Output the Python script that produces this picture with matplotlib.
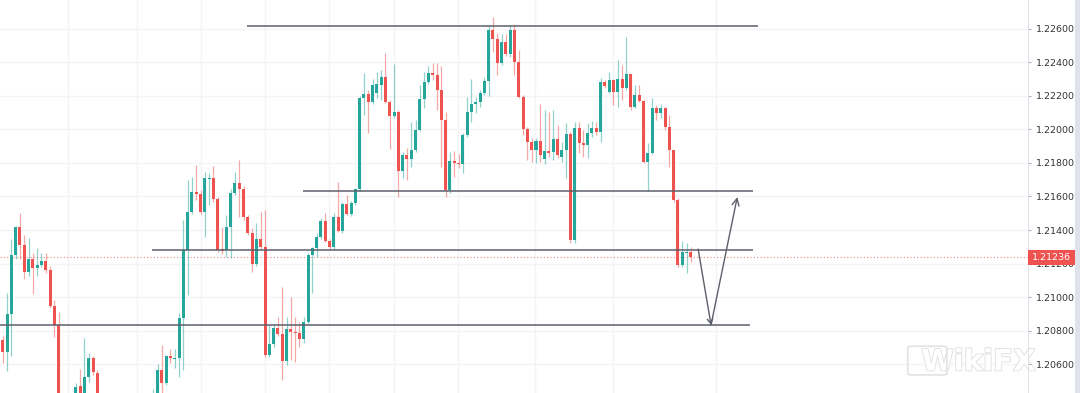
import numpy as np
import matplotlib.pyplot as plt
import matplotlib.patheffects as pe
from matplotlib.patches import Rectangle, FancyBboxPatch

# OHLC, one candle per index
opens = [1.20743, 1.20672, 1.20898, 1.21251, 1.21418, 1.21310, 1.21149, 1.21227, 1.21173, 1.21191,
         1.21215, 1.21161, 1.20946, 1.20833, 1.20373, 1.20313, 1.20361, 1.20385, 1.20469, 1.20409,
         1.20522, 1.20636, 1.20546, 1.20373, 1.20313, 1.20361, 1.20296, 1.20266, 1.20325, 1.20355,
         1.20301, 1.20343, 1.20313, 1.20367, 1.20385, 1.20349, 1.20397, 1.20564, 1.20487, 1.20648,
         1.20630, 1.20636, 1.20875, 1.21281, 1.21507, 1.21627, 1.21615, 1.21507, 1.21704, 1.21710,
         1.21585, 1.21286, 1.21281, 1.21418, 1.21621, 1.21681, 1.21645, 1.21478, 1.21382, 1.21197,
         1.21346, 1.21298, 1.20654, 1.20719, 1.20815, 1.20779, 1.20618, 1.20809, 1.20791, 1.20785,
         1.20749, 1.20851, 1.21251, 1.21292, 1.21358, 1.21454, 1.21334, 1.21298, 1.21478, 1.21394,
         1.21555, 1.21495, 1.21561, 1.21645, 1.22188, 1.22212, 1.22164, 1.22218, 1.22266, 1.22313,
         1.22164, 1.22080, 1.22104, 1.21752, 1.21848, 1.21824, 1.21877, 1.21997, 1.22182, 1.22283,
         1.22337, 1.22325, 1.22236, 1.22057, 1.21639, 1.21812, 1.21800, 1.21794, 1.21967, 1.22104,
         1.22152, 1.22164, 1.22218, 1.22289, 1.22594, 1.22540, 1.22397, 1.22522, 1.22451, 1.22594,
         1.22403, 1.22194, 1.22003, 1.21925, 1.21877, 1.21931, 1.21824, 1.21871, 1.21866, 1.21943,
         1.21836, 1.21877, 1.21973, 1.21340, 1.22009, 1.21919, 1.21907, 1.21979, 1.22009, 1.21985,
         1.22283, 1.22224, 1.22295, 1.22224, 1.22301, 1.22248, 1.22331, 1.22134, 1.22206, 1.22170,
         1.21806, 1.21860, 1.22128, 1.22098, 1.22128, 1.22015, 1.21877, 1.21579, 1.21191, 1.21263,
         1.21269]
highs = [1.20767, 1.21024, 1.21346, 1.21424, 1.21501, 1.21370, 1.21352, 1.21263, 1.21292, 1.21263,
         1.21263, 1.21185, 1.20982, 1.20910, 1.20397, 1.20385, 1.20391, 1.20487, 1.20570, 1.20755,
         1.20666, 1.20648, 1.20564, 1.20397, 1.20391, 1.20385, 1.20325, 1.20355, 1.20385, 1.20379,
         1.20367, 1.20385, 1.20391, 1.20403, 1.20403, 1.20451, 1.20600, 1.20713, 1.20654, 1.20690,
         1.20690, 1.20904, 1.21460, 1.21698, 1.21716, 1.21788, 1.21639, 1.21746, 1.21740, 1.21782,
         1.21597, 1.21418, 1.21489, 1.21645, 1.21746, 1.21818, 1.21663, 1.21489, 1.21412, 1.21442,
         1.21507, 1.21519, 1.20833, 1.20839, 1.20881, 1.21060, 1.20881, 1.21000, 1.20881, 1.20851,
         1.20881, 1.21263, 1.21298, 1.21382, 1.21472, 1.21501, 1.21346, 1.21501, 1.21687, 1.21567,
         1.21609, 1.21573, 1.21651, 1.22200, 1.22337, 1.22236, 1.22301, 1.22343, 1.22355, 1.22457,
         1.22176, 1.22391, 1.22116, 1.21866, 1.21889, 1.22045, 1.22057, 1.22266, 1.22343, 1.22379,
         1.22397, 1.22397, 1.22379, 1.22104, 1.21866, 1.21871, 1.21854, 1.21979, 1.22194, 1.22301,
         1.22194, 1.22236, 1.22313, 1.22624, 1.22672, 1.22576, 1.22570, 1.22570, 1.22624, 1.22630,
         1.22475, 1.22206, 1.22015, 1.21949, 1.21949, 1.22152, 1.22116, 1.22104, 1.22116, 1.22027,
         1.21925, 1.22039, 1.21985, 1.22045, 1.22045, 1.21997, 1.22039, 1.22051, 1.22045, 1.22307,
         1.22295, 1.22343, 1.22301, 1.22415, 1.22385, 1.22552, 1.22331, 1.22266, 1.22266, 1.22176,
         1.21919, 1.22188, 1.22146, 1.22152, 1.22134, 1.22086, 1.21877, 1.21591, 1.21334, 1.21322,
         1.21298]
lows = [1.20606, 1.20558, 1.20648, 1.21227, 1.21227, 1.21107, 1.21125, 1.21018, 1.21125, 1.21179,
        1.21143, 1.20934, 1.20761, 1.20349, 1.20296, 1.20290, 1.20313, 1.20367, 1.20391, 1.20391,
        1.20493, 1.20534, 1.20349, 1.20301, 1.20296, 1.20272, 1.20242, 1.20248, 1.20307, 1.20278,
        1.20284, 1.20290, 1.20301, 1.20337, 1.20325, 1.20331, 1.20373, 1.20427, 1.20475, 1.20606,
        1.20576, 1.20522, 1.20564, 1.21012, 1.21495, 1.21579, 1.21495, 1.21358, 1.21549, 1.21567,
        1.21269, 1.21257, 1.21239, 1.21233, 1.21609, 1.21478, 1.21460, 1.21370, 1.21149, 1.21185,
        1.21286, 1.20642, 1.20642, 1.20701, 1.20767, 1.20504, 1.20594, 1.20624, 1.20612, 1.20701,
        1.20725, 1.20839, 1.21024, 1.21239, 1.21346, 1.21328, 1.21281, 1.21281, 1.21388, 1.21382,
        1.21489, 1.21484, 1.21549, 1.21633, 1.22086, 1.21979, 1.22152, 1.22188, 1.22176, 1.22158,
        1.21883, 1.22069, 1.21597, 1.21710, 1.21698, 1.21776, 1.21866, 1.21991, 1.22128, 1.22272,
        1.22295, 1.22116, 1.21776, 1.21597, 1.21621, 1.21716, 1.21770, 1.21740, 1.21955, 1.22045,
        1.22098, 1.22134, 1.22206, 1.22200, 1.22463, 1.22325, 1.22385, 1.22439, 1.22433, 1.22325,
        1.22188, 1.21967, 1.21818, 1.21806, 1.21800, 1.21806, 1.21794, 1.21836, 1.21818, 1.21830,
        1.21806, 1.21710, 1.21322, 1.21322, 1.21860, 1.21836, 1.21830, 1.21955, 1.21967, 1.21925,
        1.22248, 1.22218, 1.22146, 1.22134, 1.22176, 1.22236, 1.22116, 1.22128, 1.22164, 1.21800,
        1.21633, 1.21854, 1.22057, 1.22069, 1.21997, 1.21776, 1.21567, 1.21179, 1.21179, 1.21143,
        1.21209]
closes = [1.20672, 1.20898, 1.21251, 1.21418, 1.21310, 1.21149, 1.21227, 1.21173, 1.21191, 1.21215,
          1.21161, 1.20946, 1.20833, 1.20373, 1.20325, 1.20361, 1.20337, 1.20463, 1.20409, 1.20522,
          1.20636, 1.20552, 1.20373, 1.20325, 1.20361, 1.20296, 1.20266, 1.20325, 1.20355, 1.20301,
          1.20343, 1.20313, 1.20367, 1.20385, 1.20349, 1.20409, 1.20564, 1.20487, 1.20648, 1.20636,
          1.20636, 1.20875, 1.21281, 1.21507, 1.21627, 1.21615, 1.21507, 1.21710, 1.21710, 1.21585,
          1.21281, 1.21275, 1.21418, 1.21621, 1.21681, 1.21645, 1.21478, 1.21382, 1.21197, 1.21346,
          1.21298, 1.20654, 1.20719, 1.20815, 1.20779, 1.20618, 1.20809, 1.20791, 1.20785, 1.20749,
          1.20851, 1.21251, 1.21292, 1.21358, 1.21454, 1.21334, 1.21298, 1.21478, 1.21394, 1.21555,
          1.21495, 1.21561, 1.21645, 1.22188, 1.22212, 1.22164, 1.22266, 1.22272, 1.22313, 1.22164,
          1.22080, 1.22104, 1.21752, 1.21848, 1.21824, 1.21877, 1.21997, 1.22182, 1.22283, 1.22337,
          1.22325, 1.22236, 1.22057, 1.21639, 1.21812, 1.21800, 1.21794, 1.21967, 1.22104, 1.22152,
          1.22164, 1.22218, 1.22289, 1.22594, 1.22540, 1.22397, 1.22522, 1.22451, 1.22594, 1.22403,
          1.22194, 1.22003, 1.21925, 1.21877, 1.21931, 1.21848, 1.21871, 1.21860, 1.21943, 1.21848,
          1.21877, 1.21973, 1.21340, 1.22009, 1.21919, 1.21907, 1.21979, 1.22009, 1.21985, 1.22283,
          1.22260, 1.22295, 1.22224, 1.22301, 1.22248, 1.22331, 1.22134, 1.22206, 1.22170, 1.21806,
          1.21860, 1.22128, 1.22098, 1.22128, 1.22015, 1.21877, 1.21579, 1.21191, 1.21269, 1.21269,
          1.21236]

# drawn support / resistance levels and their spans (candle index units)
levels = [1.22618, 1.21630, 1.21281, 1.20830]
level_start = [56.8, 69.8, 34.7, -0.7]
level_end = [175.7, 174.5, 174.5, 173.8]

# projected path (down then up)
path_x = [161.7, 164.7, 170.8]
path_y = [1.21286, 1.20833, 1.21597]

last_price = 1.21236
price_ticks = [1.206, 1.208, 1.210, 1.212, 1.214, 1.216, 1.218, 1.220, 1.222, 1.224, 1.226]
time_grid = [15.2, 31.2, 46.1, 61.0, 75.9, 91.0, 105.9, 123.8, 141.9, 165.9]

UP = '#26a69a'
DOWN = '#ef5350'
LINE = '#5d606b'

W, H = 1080, 393
fig = plt.figure(figsize=(W / 100, H / 100), dpi=100)
ax = fig.add_axes([0, 0, 1028 / W, 1])

ax.set_xlim(-0.63, 238.4)
ax.set_ylim(1.20427, 1.22773)

for p in price_ticks:
    ax.axhline(p, color='#f3f4f8', lw=1, zorder=0)
for t in time_grid:
    ax.axvline(t, color='#f3f4f8', lw=1, zorder=0)

# watermark sits behind everything
ax.text(0.952, 0.078, 'WikiFX', transform=ax.transAxes, fontsize=21, fontweight='bold',
        color='white', ha='center', va='center', zorder=0.5,
        path_effects=[pe.withStroke(linewidth=1.4, foreground='#e2e2e2')])
ax.add_patch(FancyBboxPatch((0.887, 0.05), 0.03, 0.065, transform=ax.transAxes,
                            boxstyle='round,pad=0.004', fc='none', ec='#e2e2e2',
                            lw=1.2, zorder=0.5))

o = np.array(opens)
c = np.array(closes)
idx = np.arange(len(o))
col = np.where(c >= o, UP, DOWN)
ax.vlines(idx, lows, highs, colors=col, alpha=0.5, lw=0.9, zorder=2)
ax.bar(idx, np.maximum(np.abs(c - o), 0.00005), bottom=np.minimum(o, c),
       width=0.7, color=col, linewidth=0, zorder=3)

ax.hlines(levels, level_start, level_end, color=LINE, lw=1.1, zorder=4)
ax.axhline(last_price, color='#f08a87', lw=0.8, ls=(0, (1, 2)), zorder=1)

ax.annotate('', xy=(path_x[1], path_y[1]), xytext=(path_x[0], path_y[0]),
            arrowprops=dict(arrowstyle='->,head_length=0.35,head_width=0.2', color=LINE,
                            lw=1, shrinkA=0, shrinkB=0), zorder=5)
ax.annotate('', xy=(path_x[2], path_y[2]), xytext=(path_x[1], path_y[1]),
            arrowprops=dict(arrowstyle='->,head_length=0.5,head_width=0.25', color=LINE,
                            lw=1, shrinkA=0, shrinkB=0), zorder=5)

ax.set_xticks([])
ax.yaxis.tick_right()
ax.set_yticks(price_ticks)
ax.set_yticklabels(['%.5f' % p for p in price_ticks])
ax.tick_params(axis='y', length=2.5, width=0.6, color='#9598a1', pad=3,
               labelsize=6.8, labelcolor='#333333')
for s in ['top', 'left', 'bottom']:
    ax.spines[s].set_visible(False)
ax.spines['right'].set_color('#e0e3eb')
ax.spines['right'].set_linewidth(0.8)

# last price tag on the axis
ly = (last_price - 1.20427) / (1.22773 - 1.20427)
fig.patches.append(Rectangle((1028 / W, ly - 7.5 / H), 47 / W, 15 / H,
                             transform=fig.transFigure, fc=DOWN, ec='none', zorder=5))
fig.text(1051.5 / W, ly, '%.5f' % last_price, color='white', fontsize=6.8,
         ha='center', va='center', zorder=6)

# right edge band
fig.patches.append(Rectangle((1075 / W, 0), 5 / W, 1, transform=fig.transFigure,
                             fc='#dfe2ea', ec='none', zorder=5))

fig.savefig('out.png', dpi=100)
